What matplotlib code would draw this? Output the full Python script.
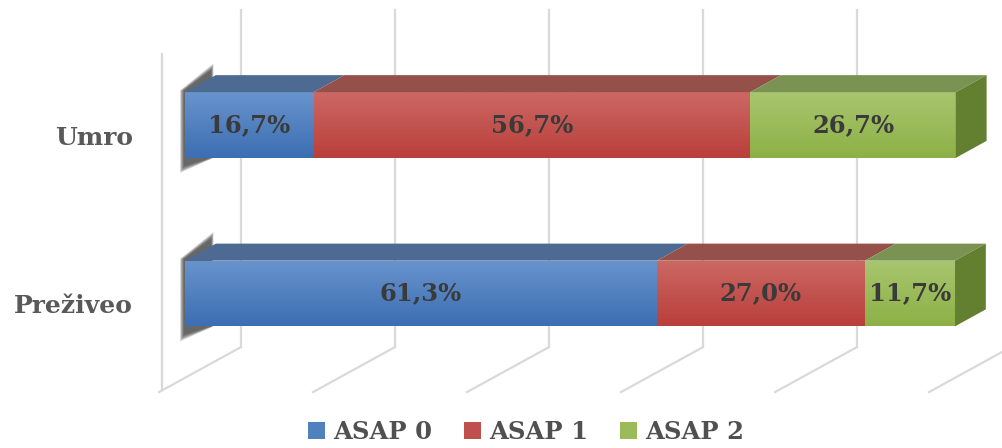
import numpy as np
import matplotlib
matplotlib.use('Agg')
import matplotlib.pyplot as plt
from matplotlib.patches import Polygon
from matplotlib.colors import LinearSegmentedColormap

# data
categories = ['Preživeo', 'Umro']
series = ['ASAP 0', 'ASAP 1', 'ASAP 2']
asap0 = [61.3, 16.7]
asap1 = [27.0, 56.7]
asap2 = [11.7, 26.7]
labels0 = ['61,3%', '16,7%']
labels1 = ['27,0%', '56,7%']
labels2 = ['11,7%', '26,7%']

# colours: legend/base, gradient top, gradient bottom, top face, side face
base = ['#4F81BD', '#C0504D', '#9BBB59']
grad_top = ['#6994cd', '#cc6864', '#a8c66f']
grad_bot = ['#3c6eb2', '#b93f3b', '#8db046']
top_face = ['#4d6a93', '#955049', '#7a9352']
side_face = ['#4a6a96', '#8a3c39', '#62802f']

bar_h = 0.39
dx, dy = 4.0, 0.101   # 3d depth offset (x in %, y in category units)

fig = plt.figure(figsize=(10.02, 4.48), dpi=100)
ax = fig.add_axes([0, 0, 1, 1])
ax.axis('off')

# walls / gridlines (back wall, floor diagonals, left wall edge)
grid_c = '#d9d9d9'
back_off = 7.27
wall_top, wall_bot, floor_front = 1.683, -0.318, -0.585
for k in range(6):
    xb = back_off + 20 * k
    ax.plot([xb, xb], [wall_top, wall_bot], color=grid_c, lw=1.6, zorder=0)
    ax.plot([xb, xb - 10.65], [wall_bot, floor_front], color=grid_c, lw=1.6, zorder=0)
ax.plot([-3.0, -3.0], [1.421, -0.573], color=grid_c, lw=1.6, zorder=0)

ypos = np.arange(len(categories))
data = [asap0, asap1, asap2]
texts = [labels0, labels1, labels2]
lefts = np.zeros(len(categories))

# blurred shadow at left end of each bar
for yi in ypos:
    for s in np.linspace(1.0, 0.0, 8):
        shadow = Polygon([(-0.15 - s * 0.5, yi - bar_h / 2 - 0.05 - 0.04 * s),
                          (-0.15 - s * 0.5, yi + bar_h / 2 + 0.01),
                          (dx * 0.85 + s * 0.3, yi + bar_h / 2 + dy * 1.3 + 0.04 * s),
                          (dx * 0.85 + s * 0.3, yi - bar_h / 2)],
                         closed=True, facecolor='#202020', edgecolor='none',
                         alpha=0.13, zorder=1)
        ax.add_patch(shadow)

grad = np.linspace(0, 1, 64).reshape(-1, 1)
for i, vals in enumerate(data):
    bars = ax.barh(ypos, vals, left=lefts, height=bar_h, color=base[i],
                   label=series[i], zorder=2)
    cmap = LinearSegmentedColormap.from_list('g%d' % i, [grad_bot[i], grad_top[i]])
    for j, rect in enumerate(bars):
        x0, y0 = rect.get_x(), rect.get_y()
        w, h = rect.get_width(), rect.get_height()
        im = ax.imshow(grad, extent=[x0, x0 + w, y0, y0 + h], origin='lower',
                       cmap=cmap, aspect='auto', zorder=3)
        im.set_clip_path(rect)
        top = Polygon([(x0, y0 + h), (x0 + w, y0 + h),
                       (x0 + w + dx, y0 + h + dy), (x0 + dx, y0 + h + dy)],
                      closed=True, facecolor=top_face[i], edgecolor='none', zorder=3)
        ax.add_patch(top)
        if i == len(data) - 1:
            side = Polygon([(x0 + w, y0), (x0 + w + dx, y0 + dy),
                            (x0 + w + dx, y0 + h + dy), (x0 + w, y0 + h)],
                           closed=True, facecolor=side_face[i], edgecolor='none', zorder=3)
            ax.add_patch(side)
        ax.text(x0 + w / 2, y0 + h / 2, texts[i][j], ha='center', va='center',
                fontsize=17.5, fontweight='bold', family='DejaVu Serif',
                color='#3a3a3a', zorder=5)
    lefts = lefts + np.array(vals)

for yi, cat in zip(ypos, categories):
    ax.text(-6.75, yi - 0.075, cat, ha='right', va='center', fontsize=18,
            fontweight='bold', family='DejaVu Serif', color='#595959')

ax.set_xlim(-24.03, 106.1)
ax.set_ylim(-0.917, 1.742)

leg = fig.legend(loc='center', bbox_to_anchor=(0.525, 0.036), ncol=3, frameon=False,
                 handlelength=0.7, handleheight=0.7, handletextpad=0.35,
                 columnspacing=1.3, borderpad=0.2,
                 prop={'family': 'DejaVu Serif', 'weight': 'bold', 'size': 17.5})
for t in leg.get_texts():
    t.set_color('#505050')

plt.savefig('out.png', dpi=100)
plt.close()
